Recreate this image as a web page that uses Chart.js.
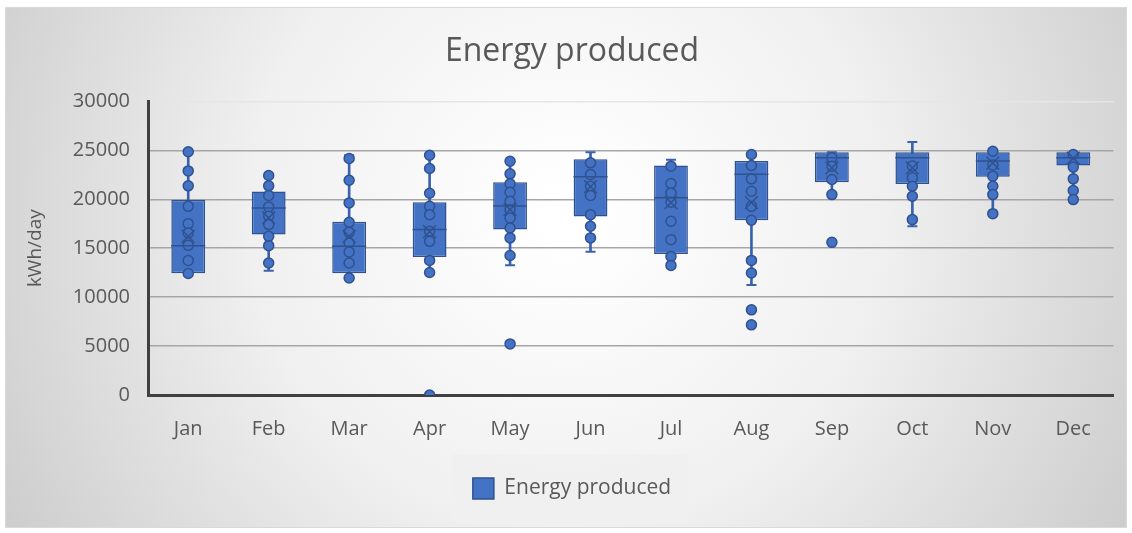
<!DOCTYPE html>
<html>
<head>
<meta charset="utf-8">
<script src="https://cdn.jsdelivr.net/npm/chart.js@4.4.1/dist/chart.umd.min.js"></script>
<style>
  html, body { margin: 0; padding: 0; background: #ffffff; }
  #wrap { width: 1132px; height: 533px; position: relative; }
</style>
</head>
<body>
<div id="wrap"><canvas id="chart" width="1132" height="533"></canvas></div>
<script>
// Monthly energy production, kWh/day
const months = ['Jan', 'Feb', 'Mar', 'Apr', 'May', 'Jun', 'Jul', 'Aug', 'Sep', 'Oct', 'Nov', 'Dec'];

// Box statistics per month
const q1Values     = [12450, 16400, 12450, 14100, 16900, 18250, 14400, 17850, 21750, 21550, 22300, 23450];
const medianValues = [15250, 19100, 15200, 16900, 19300, 22300, 20150, 22550, 24250, 24250, 23900, 24250];
const q3Values     = [19950, 20800, 17700, 19700, 21750, 24100, 23450, 23900, 24800, 24800, 24800, 24800];
const meanValues   = [16200, 18100, 16200, 16700, 18950, 21300, 19650, 19650, 23200, 23200, 23700, 24200];
const whiskerLow   = [12400, 12700, 11950, 12500, 13250, 14650, 13250, 11250, 20500, 17250, 18550, 19950];
const whiskerHigh  = [24850, 22400, 24500, 24500, 23900, 24800, 24050, 24600, 24800, 25850, 24900, 24600];

// Individual daily readings shown as dots
const janPoints = [24850, 22900, 21370, 19280, 17510, 16560, 15290, 13750, 12420];
const febPoints = [22430, 21370, 20380, 19220, 18260, 17410, 16210, 15260, 13490];
const marPoints = [24170, 21940, 19630, 17640, 16620, 15530, 14610, 13490, 11950];
const aprPoints = [24500, 23140, 20610, 19280, 18430, 16720, 15700, 13750, 12520, 0];
const mayPoints = [23890, 22600, 21580, 20720, 19800, 18940, 18090, 17070, 16050, 14260, 5220];
const junPoints = [23720, 22530, 21330, 20380, 18430, 17240, 16050];
const julPoints = [23380, 21610, 20650, 19690, 17750, 15870, 14160, 13240];
const augPoints = [24580, 23450, 22090, 20820, 19280, 17850, 13750, 12460, 8700, 7170];
const sepPoints = [24230, 23380, 22020, 20480, 15600];
const octPoints = [23400, 22190, 21330, 20310, 17920];
const novPoints = [24910, 23500, 22360, 21330, 20480, 18530];
const decPoints = [24580, 23290, 22090, 20890, 19970];

const monthPoints = [janPoints, febPoints, marPoints, aprPoints, mayPoints, junPoints,
                     julPoints, augPoints, sepPoints, octPoints, novPoints, decPoints];

// Y axis ticks
const yMin = 0;
const yMax = 30000;
const yStep = 5000;

const BOX_FILL = '#4472C4';
const BOX_EDGE = '#2F528F';
const TEXT = '#595959';
const FONT = "'Open Sans', 'DejaVu Sans', sans-serif";

const pointData = [];
monthPoints.forEach((list, i) => list.forEach(v => pointData.push({ x: months[i], y: v })));

const boxData = months.map((m, i) => [q1Values[i], q3Values[i]]);
const whiskerData = months.map((m, i) => [whiskerLow[i], whiskerHigh[i]]);
const capData = [];
months.forEach((m, i) => { capData.push({ x: m, y: whiskerLow[i] }); capData.push({ x: m, y: whiskerHigh[i] }); });
const medianData = months.map((m, i) => ({ x: m, y: medianValues[i] }));
const meanData = months.map((m, i) => ({ x: m, y: meanValues[i] }));

// Paints the soft radial panel and the legend's backing rectangle
const panelPlugin = {
  id: 'panel',
  beforeDraw(chart) {
    const ctx = chart.ctx;
    const w = chart.width, h = chart.height;
    ctx.save();
    ctx.fillStyle = '#ffffff';
    ctx.fillRect(0, 0, w, h);
    const g = ctx.createRadialGradient(w * 0.5, h * 0.4, 20, w * 0.5, h * 0.4, w * 0.6);
    g.addColorStop(0, '#ffffff');
    g.addColorStop(0.45, '#f0f0f0');
    g.addColorStop(1, '#c9c9c9');
    ctx.fillStyle = g;
    ctx.fillRect(5, 7, w - 10, h - 12);
    ctx.strokeStyle = '#d9d9d9';
    ctx.lineWidth = 1;
    ctx.strokeRect(5.5, 7.5, w - 11, h - 13);

    const lg = chart.legend;
    if (lg && lg.legendHitBoxes && lg.legendHitBoxes.length) {
      const hb = lg.legendHitBoxes[0];
      ctx.fillStyle = 'rgba(240,240,240,0.92)';
      ctx.fillRect(hb.left - 21, hb.top + hb.height / 2 - 34, hb.width + 38, 68);
    }
    ctx.restore();
  }
};

new Chart(document.getElementById('chart'), {
  type: 'bar',
  data: {
    labels: months,
    datasets: [
      {
        type: 'bar',
        label: 'whisker',
        data: whiskerData,
        backgroundColor: '#3A62AC',
        borderWidth: 0,
        barThickness: 2,
        grouped: false,
        order: 6
      },
      {
        type: 'bar',
        label: 'Energy produced',
        data: boxData,
        backgroundColor: BOX_FILL,
        borderColor: BOX_EDGE,
        borderWidth: 1.5,
        borderSkipped: false,
        barPercentage: 0.42,
        categoryPercentage: 1,
        grouped: false,
        order: 5
      },
      {
        type: 'line',
        label: 'cap',
        data: capData,
        showLine: false,
        pointStyle: 'line',
        pointRadius: 5,
        borderColor: '#3A62AC',
        pointBorderWidth: 2,
        order: 4
      },
      {
        type: 'line',
        label: 'points',
        data: pointData,
        showLine: false,
        pointStyle: 'circle',
        pointRadius: 5,
        pointBackgroundColor: BOX_FILL,
        pointBorderColor: BOX_EDGE,
        pointBorderWidth: 1.5,
        order: 3
      },
      {
        type: 'line',
        label: 'median',
        data: medianData,
        showLine: false,
        pointStyle: 'line',
        pointRadius: 17,
        borderColor: BOX_EDGE,
        pointBorderWidth: 1.5,
        order: 2
      },
      {
        type: 'line',
        label: 'mean',
        data: meanData,
        showLine: false,
        pointStyle: 'crossRot',
        pointRadius: 9,
        borderColor: BOX_EDGE,
        pointBorderWidth: 1.5,
        order: 1
      }
    ]
  },
  options: {
    responsive: false,
    animation: false,
    events: [],
    layout: { padding: { left: 24, right: 12, top: 8, bottom: 24 } },
    plugins: {
      title: {
        display: true,
        text: 'Energy produced',
        color: TEXT,
        font: { family: FONT, size: 32, weight: 'normal' },
        padding: { top: 25, bottom: 30 }
      },
      legend: {
        display: true,
        position: 'bottom',
        labels: {
          filter: item => item.text === 'Energy produced',
          color: TEXT,
          font: { family: FONT, size: 21 },
          boxWidth: 21,
          boxHeight: 21,
          padding: 15
        }
      },
      tooltip: { enabled: false }
    },
    scales: {
      x: {
        type: 'category',
        grid: { display: false, drawTicks: false },
        border: { display: true, color: '#404040', width: 3 },
        ticks: { color: TEXT, font: { family: FONT, size: 20 }, padding: 22 }
      },
      y: {
        min: yMin,
        max: yMax,
        afterFit: scale => { scale.width = 124; },
        ticks: {
          stepSize: yStep,
          color: TEXT,
          font: { family: FONT, size: 20 },
          padding: 18,
          callback: v => String(v)
        },
        grid: {
          drawTicks: false,
          lineWidth: 1.5,
          color: c => (c.tick && c.tick.value === yMax ? '#e6e6e6' : '#a6a6a6')
        },
        border: { display: true, color: '#404040', width: 3 },
        title: {
          display: true,
          text: 'kWh/day',
          color: TEXT,
          font: { family: FONT, size: 19 },
          padding: { top: 0, bottom: 14 }
        }
      }
    }
  },
  plugins: [panelPlugin]
});
</script>
</body>
</html>
